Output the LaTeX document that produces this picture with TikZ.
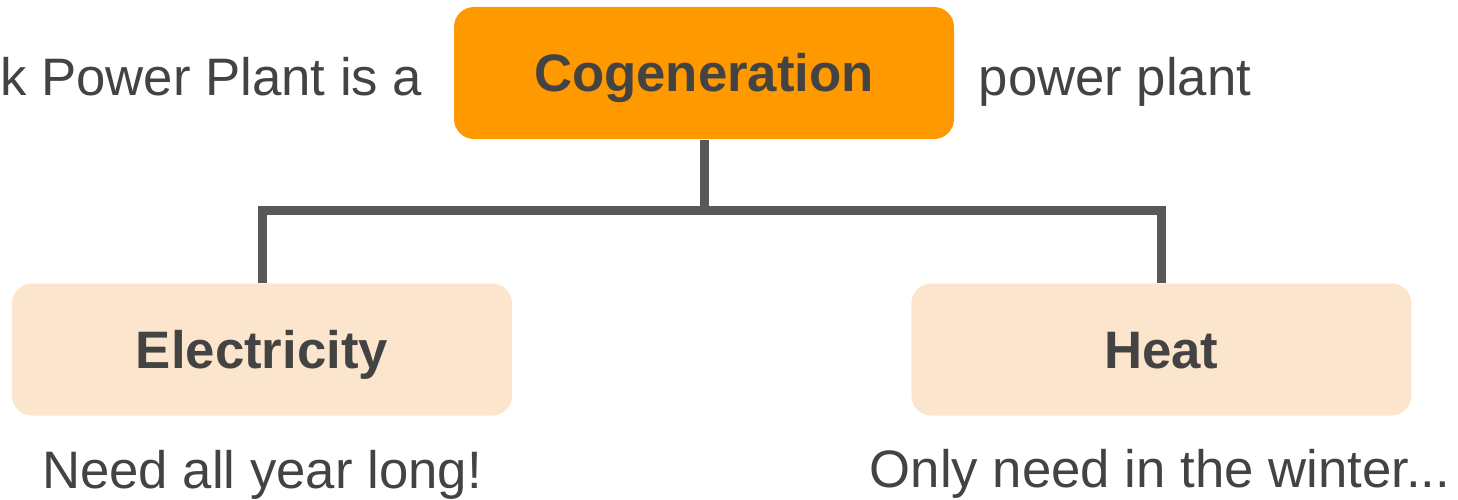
\documentclass[tikz,border=0pt]{standalone}
\usepackage{fontspec}
\setmainfont{Liberation Sans}
\usepackage{xcolor}
\usetikzlibrary{positioning}

\definecolor{cogorange}{HTML}{FF9900}
\definecolor{usepeach}{HTML}{FCE5CD}
\definecolor{linkgray}{HTML}{595959}
\definecolor{textgray}{HTML}{434343}

\tikzset{
  box/.style={rectangle, rounded corners=0.2cm, minimum width=5cm, minimum height=1.32cm,
    inner sep=0pt, text height=10.74pt, text depth=0pt, text=textgray,
    font=\fontsize{15}{18}\selectfont\bfseries},
  note/.style={inner sep=0pt, text=textgray, font=\fontsize{15}{18}\selectfont},
  link/.style={draw=linkgray, line width=0.09cm}
}

\begin{document}
\begin{tikzpicture}
  \useasboundingbox (0,0) rectangle (14.58,4.99);
  \clip (0,0) rectangle (14.58,4.99);

  \node[box, fill=cogorange] (cog) at (7.04,4.26) {Cogeneration};
  \node[box, fill=usepeach] (elec) at (2.62,1.495) {Electricity};
  \node[box, fill=usepeach, right = 3.98cm of elec] (heat) {Heat};

  \node[note, anchor=base east] (lead) at (4.23,4.03) {k Power Plant is a};
  \node[note, anchor=base west] (tail) at (9.78,4.03) {power plant};
  \node[note, anchor=base] (elecnote) at (2.62,0.11) {Need all year long!};
  \node[note, anchor=base] (heatnote) at (11.60,0.12) {Only need in the winter...};

  \coordinate (bar) at (7.04,2.89);
  \draw[link] (cog.south) -- (bar);
  \draw[link] (elec.north) |- (bar) -| (heat.north);
\end{tikzpicture}
\end{document}
